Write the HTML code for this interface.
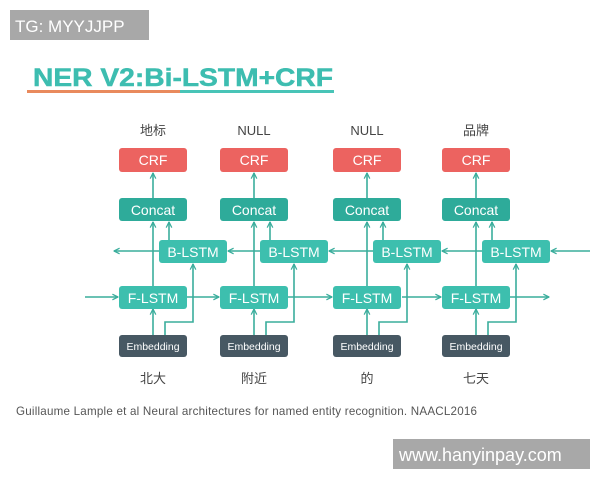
<!DOCTYPE html>
<html><head><meta charset="utf-8"><style>
html,body{margin:0;padding:0;background:#fff;width:600px;height:480px;overflow:hidden}
svg{display:block}
</style></head><body>
<svg width="600" height="480" viewBox="0 0 600 480" xmlns="http://www.w3.org/2000/svg" font-family="Liberation Sans, Noto Sans CJK SC, sans-serif">
<defs>
<marker id="a" viewBox="0 0 10 10" refX="9" refY="5" markerWidth="7" markerHeight="7" orient="auto-start-reverse" markerUnits="userSpaceOnUse">
<path d="M1,1 L9,5 L1,9" fill="none" stroke="#3aad9c" stroke-width="1.8"/>
</marker>
<g id="col">
<g stroke="#3aad9c" stroke-width="1.6" fill="none">
<line x1="34" y1="335" x2="34" y2="309" marker-end="url(#a)"/>
<polyline points="46,335 46,322 74,322 74,264" marker-end="url(#a)"/>
<line x1="34" y1="287" x2="34" y2="222" marker-end="url(#a)"/>
<line x1="50" y1="240" x2="50" y2="222" marker-end="url(#a)"/>
<line x1="34" y1="198" x2="34" y2="173" marker-end="url(#a)"/>
</g>
<rect x="0" y="148" width="68" height="24" rx="3" fill="#ec6360"/>
<text x="34" y="165" font-size="14" fill="#fff" text-anchor="middle">CRF</text>
<rect x="0" y="198" width="68" height="23" rx="3" fill="#2eab9a"/>
<text x="34" y="215" font-size="14" fill="#fff" text-anchor="middle">Concat</text>
<rect x="40" y="240" width="68" height="23" rx="3" fill="#3dbfae"/>
<text x="74" y="257" font-size="14" fill="#fff" text-anchor="middle">B-LSTM</text>
<rect x="0" y="286" width="68" height="23" rx="3" fill="#3dbfae"/>
<text x="34" y="303" font-size="14" fill="#fff" text-anchor="middle">F-LSTM</text>
<rect x="0" y="335" width="68" height="22" rx="3" fill="#475863"/>
<text x="34" y="350" font-size="10.5" fill="#fff" text-anchor="middle">Embedding</text>
</g>
</defs>
<rect x="10" y="10" width="139" height="30" fill="#a8a8a8"/>
<text x="15" y="32" font-size="17" fill="#fff">TG: MYYJJPP</text>
<text x="33" y="86" font-size="25" font-weight="bold" fill="#3dbdb0" stroke="#3dbdb0" stroke-width="0.5" textLength="300" lengthAdjust="spacingAndGlyphs">NER V2:Bi-LSTM+CRF</text>
<rect x="27" y="90" width="153" height="3" fill="#e98a5d"/>
<rect x="180" y="90" width="154" height="3" fill="#48c4b7"/>
<g stroke="#3aad9c" stroke-width="1.6" fill="none">
<line x1="85" y1="297" x2="118" y2="297" marker-end="url(#a)"/>
<line x1="187" y1="297" x2="219" y2="297" marker-end="url(#a)"/>
<line x1="288" y1="297" x2="332" y2="297" marker-end="url(#a)"/>
<line x1="402" y1="297" x2="441" y2="297" marker-end="url(#a)"/>
<line x1="510" y1="297" x2="549" y2="297" marker-end="url(#a)"/>
<line x1="590" y1="251" x2="551" y2="251" marker-end="url(#a)"/>
<line x1="482" y1="251" x2="442" y2="251" marker-end="url(#a)"/>
<line x1="373" y1="251" x2="329" y2="251" marker-end="url(#a)"/>
<line x1="260" y1="251" x2="228" y2="251" marker-end="url(#a)"/>
<line x1="159" y1="251" x2="114" y2="251" marker-end="url(#a)"/>
</g>
<use href="#col" x="119" y="0"/>
<use href="#col" x="220" y="0"/>
<use href="#col" x="333" y="0"/>
<use href="#col" x="442" y="0"/>
<g font-size="13" fill="#444" text-anchor="middle">
<text x="153" y="135">地标</text>
<text x="254" y="135">NULL</text>
<text x="367" y="135">NULL</text>
<text x="476" y="135">品牌</text>
<text x="153" y="383">北大</text>
<text x="254" y="383">附近</text>
<text x="367" y="383">的</text>
<text x="476" y="383">七天</text>
</g>
<text x="16" y="415" font-size="11.6" fill="#555" textLength="461">Guillaume Lample et al  Neural architectures for named entity recognition. NAACL2016</text>
<rect x="393" y="439" width="197" height="30" fill="#a8a8a8"/>
<text x="399" y="461" font-size="18" fill="#fff">www.hanyinpay.com</text>
</svg>
</body></html>
